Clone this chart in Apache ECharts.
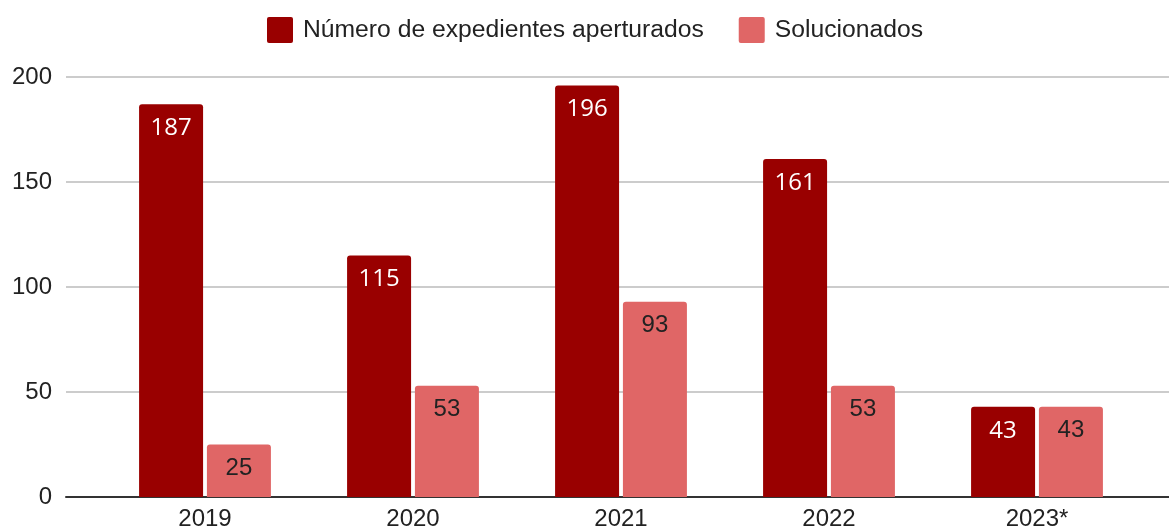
<!DOCTYPE html>
<html>
<head>
<meta charset="utf-8">
<script src="https://cdn.jsdelivr.net/npm/echarts@6/dist/echarts.min.js"></script>
<style>
  html, body { margin: 0; padding: 0; background: #fff; }
  #chart { width: 1169px; height: 532px; }
</style>
</head>
<body>
<div id="chart"></div>
<script>
// datos
var years = ['2019', '2020', '2021', '2022', '2023*'];
var abiertos = [187, 115, 196, 161, 43];
var solucionados = [25, 53, 93, 53, 43];
var yTicks = { min: 0, max: 200, interval: 50 };

var fontFam = '"Liberation Sans", Arial, sans-serif';

var option = {
    animation: false,
    color: ['#990000', '#e06666'],
    legend: {
        top: 12,
        left: 262,
        itemWidth: 26,
        itemHeight: 26,
        itemGap: 35,
        icon: 'path://M2,0 L24,0 Q26,0 26,2 L26,24 Q26,26 24,26 L2,26 Q0,26 0,24 L0,2 Q0,0 2,0 Z',
        textStyle: { fontSize: 24.7, color: '#222', fontFamily: fontFam, padding: [0, 0, 0, 5] },
        data: ['Número de expedientes aperturados', 'Solucionados']
    },
    grid: [
        { left: 101, right: 28, top: 77, bottom: 35 }, // barras
        { left: 66, right: 0, top: 77, bottom: 35 }    // lineas de fondo
    ],
    xAxis: [
        {
            type: 'category',
            gridIndex: 0,
            data: years,
            axisLine: { show: false },
            axisTick: { show: false },
            axisLabel: { fontSize: 24, color: '#222', fontFamily: fontFam, margin: 10 }
        },
        {
            type: 'value',
            gridIndex: 1,
            min: 0, max: 1,
            axisLine: { show: true, lineStyle: { color: '#333', width: 2 } },
            axisTick: { show: false },
            axisLabel: { show: false },
            splitLine: { show: false }
        }
    ],
    yAxis: [
        {
            type: 'value',
            gridIndex: 0,
            min: yTicks.min, max: yTicks.max, interval: yTicks.interval,
            show: false
        },
        {
            type: 'value',
            gridIndex: 1,
            min: yTicks.min, max: yTicks.max, interval: yTicks.interval,
            axisLine: { show: false },
            axisTick: { show: false },
            axisLabel: { fontSize: 24, color: '#222', fontFamily: fontFam, margin: 14 },
            splitLine: { lineStyle: { color: '#cccccc', width: 2 } }
        }
    ],
    series: [
        {
            name: 'Número de expedientes aperturados',
            type: 'bar',
            xAxisIndex: 0, yAxisIndex: 0,
            barWidth: 64,
            barGap: '6%',
            itemStyle: { borderRadius: [3, 3, 0, 0] },
            label: { show: true, position: 'insideTop', distance: 12, color: '#fff', fontSize: 24, fontWeight: 500, fontFamily: '"Open Sans", "Noto Sans", sans-serif' },
            data: abiertos
        },
        {
            name: 'Solucionados',
            type: 'bar',
            xAxisIndex: 0, yAxisIndex: 0,
            barWidth: 64,
            itemStyle: { borderRadius: [3, 3, 0, 0] },
            label: { show: true, position: 'insideTop', distance: 12, color: '#222', fontSize: 24, fontFamily: fontFam },
            data: solucionados
        }
    ]
};

var myChart = echarts.init(document.getElementById('chart'));
myChart.setOption(option);
</script>
</body>
</html>
